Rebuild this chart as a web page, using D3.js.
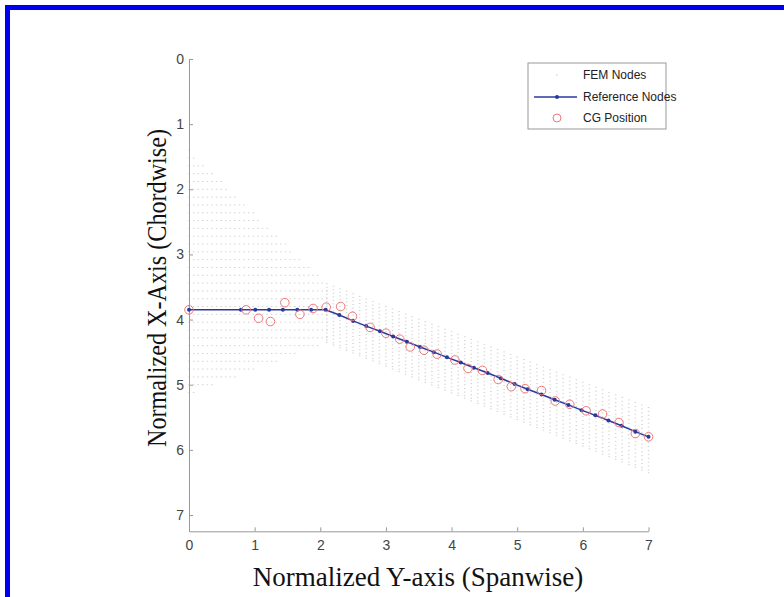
<!DOCTYPE html>
<html><head><meta charset="utf-8">
<script src="https://cdn.jsdelivr.net/npm/d3@7"></script>
<style>body{margin:0;background:#fff}svg{display:block}</style>
</head><body><svg id="c" width="784" height="597"></svg>
<script>
// ---- data ----
const xTicks = [0,1,2,3,4,5,6,7];
const yTicks = [0,1,2,3,4,5,6,7];
// FEM mesh definition (planform edges)
const inboardStations = [0,0.07,0.14,0.21,0.28,0.35,0.42,0.49,0.56,0.63,0.70,0.77,0.84,0.91,0.98,1.05,1.12,1.19,1.26,1.33,1.40,1.47,1.54,1.61,1.68,1.75,1.82,1.89,1.96,2.03,2.10];
const inboardLevels = [1.40,1.52,1.64,1.76,1.88,2.00,2.12,2.24,2.36,2.48,2.60,2.72,2.84,2.96,3.08,3.20,3.32,3.44,3.56,3.68,3.80,3.92,4.04,4.16,4.28,4.40,4.52,4.64,4.76,4.88,5.00,5.12];
const inboardLE = [1.40, 3.45];   // at span 0 and 2.1
const inboardTE = [5.15, 4.35];
const outboardStations = [2.10,2.20,2.30,2.40,2.50,2.60,2.70,2.80,2.90,3.00,3.10,3.20,3.30,3.40,3.50,3.60,3.70,3.80,3.90,4.00,4.10,4.20,4.30,4.40,4.50,4.60,4.70,4.80,4.90,5.00,5.10,5.20,5.30,5.40,5.50,5.60,5.70,5.80,5.90,6.00,6.10,6.20,6.30,6.40,6.50,6.60,6.70,6.80,6.90,7.00];
const outboardFractions = [0,0.06,0.12,0.18,0.24,0.30,0.36,0.42,0.48,0.54,0.60,0.66,0.72,0.78,0.84,0.90,0.96,1.0];
const outboardLE = [3.45, 5.35];  // at span 2.1 and 7
const outboardTE = [4.35, 6.35];
// Reference nodes
const refSpan = [0,0.79,1.01,1.22,1.43,1.65,1.86,2.08,2.29,2.50,2.70,2.91,3.11,3.32,3.52,3.73,3.93,4.14,4.34,4.55,4.75,4.96,5.16,5.37,5.57,5.78,5.98,6.19,6.39,6.59,6.80,7.00];
const refChord = [3.85,3.85,3.85,3.85,3.85,3.85,3.85,3.85,3.93,4.02,4.10,4.18,4.26,4.34,4.42,4.50,4.58,4.66,4.74,4.82,4.90,4.99,5.07,5.15,5.23,5.31,5.39,5.47,5.55,5.63,5.72,5.80];
// CG positions
const cgSpan = [0,0.87,1.06,1.24,1.46,1.69,1.89,2.09,2.31,2.49,2.76,3.00,3.21,3.37,3.58,3.78,4.05,4.25,4.47,4.71,4.91,5.12,5.37,5.58,5.80,6.05,6.30,6.55,6.80,7.00];
const cgChord = [3.85,3.85,3.98,4.03,3.74,3.92,3.83,3.81,3.80,3.95,4.12,4.21,4.30,4.42,4.47,4.53,4.62,4.75,4.78,4.92,5.03,5.06,5.09,5.25,5.30,5.40,5.45,5.58,5.75,5.80];
const legendLabels = ["FEM Nodes","Reference Nodes","CG Position"];

// ---- drawing ----
const svg = d3.select("#c");
svg.append("rect").attr("x",5).attr("y",5).attr("width",779).attr("height",5).attr("fill","#0000f0");
svg.append("rect").attr("x",5).attr("y",5).attr("width",5).attr("height",592).attr("fill","#0000f0");

const x = d3.scaleLinear().domain([0,7]).range([189,648.5]);
const y = d3.scaleLinear().domain([0,7.25]).range([59,531.3]);

// FEM nodes
const fem = [];
inboardStations.forEach(s=>{
  const t = s/2.1;
  const le = inboardLE[0]+(inboardLE[1]-inboardLE[0])*t;
  const te = inboardTE[0]+(inboardTE[1]-inboardTE[0])*t;
  inboardLevels.forEach(c=>{ if(c>=le-0.001 && c<=te+0.001) fem.push([s,c]); });
});
outboardStations.forEach(s=>{
  const t = (s-2.1)/4.9;
  const le = outboardLE[0]+(outboardLE[1]-outboardLE[0])*t;
  const te = outboardTE[0]+(outboardTE[1]-outboardTE[0])*t;
  outboardFractions.forEach(f=>fem.push([s, le+f*(te-le)]));
});
svg.append("g").selectAll("rect").data(fem).join("rect")
  .attr("x",d=>x(d[0])-0.75).attr("y",d=>y(d[1])-0.5)
  .attr("width",1.5).attr("height",1).attr("fill","#d2d2d2");

// axes
const fmt = d3.format("d");
const gx = svg.append("g").attr("transform",`translate(0,${y(7.25)})`)
  .call(d3.axisBottom(x).tickValues(xTicks).tickFormat(fmt).tickSizeInner(-4).tickSizeOuter(0).tickPadding(9));
const gy = svg.append("g").attr("transform",`translate(${x(0)},0)`)
  .call(d3.axisLeft(y).tickValues(yTicks).tickFormat(fmt).tickSizeInner(-4).tickSizeOuter(0).tickPadding(5));
[gx,gy].forEach(g=>{
  g.select(".domain").attr("stroke","#999");
  g.selectAll(".tick line").attr("stroke","#999");
  g.selectAll("text").attr("fill","#444").style("font-family","Liberation Sans, Arial, sans-serif").style("font-size","14px");
});

// reference line
const line = d3.line().x((d,i)=>x(refSpan[i])).y((d,i)=>y(refChord[i]));
svg.append("path").attr("d",line(refSpan)).attr("fill","none").attr("stroke","#2a3a9c").attr("stroke-width",1.5);
svg.append("g").selectAll("circle").data(refSpan).join("circle")
  .attr("cx",(d,i)=>x(refSpan[i])).attr("cy",(d,i)=>y(refChord[i])).attr("r",2).attr("fill","#2a3a9c");

// CG circles
svg.append("g").selectAll("circle").data(cgSpan).join("circle")
  .attr("cx",(d,i)=>x(cgSpan[i])).attr("cy",(d,i)=>y(cgChord[i])).attr("r",4.3)
  .attr("fill","none").attr("stroke","#e77").attr("stroke-width",1);

// titles
svg.append("text").attr("x",418).attr("y",586).attr("text-anchor","middle")
  .style("font-family","Liberation Serif, Times New Roman, serif").style("font-size","27px").attr("fill","#111")
  .text("Normalized Y-axis (Spanwise)");
svg.append("text").attr("transform","translate(166,288) rotate(-90)").attr("text-anchor","middle")
  .attr("textLength",318).attr("lengthAdjust","spacingAndGlyphs")
  .style("font-family","Liberation Serif, Times New Roman, serif").style("font-size","27px").attr("fill","#111")
  .text("Normalized X-Axis (Chordwise)");

// legend
const lg = svg.append("g");
lg.append("rect").attr("x",528).attr("y",63).attr("width",138).attr("height",66).attr("fill","#fff").attr("stroke","#999");
const ly = [75,97,118];
lg.append("rect").attr("x",556).attr("y",ly[0]-0.5).attr("width",1.5).attr("height",1).attr("fill","#c8c8c8");
lg.append("line").attr("x1",534).attr("x2",577).attr("y1",ly[1]).attr("y2",ly[1]).attr("stroke","#2a3a9c").attr("stroke-width",1.5);
lg.append("circle").attr("cx",557).attr("cy",ly[1]).attr("r",2).attr("fill","#2a3a9c");
lg.append("circle").attr("cx",557).attr("cy",ly[2]).attr("r",4).attr("fill","none").attr("stroke","#e77");
lg.selectAll("text.l").data(legendLabels).join("text").attr("class","l")
  .attr("x",583).attr("y",(d,i)=>ly[i]).attr("dy","0.35em")
  .style("font-family","Liberation Sans, Arial, sans-serif").style("font-size","12px").attr("fill","#222")
  .text(d=>d);
</script></body></html>
